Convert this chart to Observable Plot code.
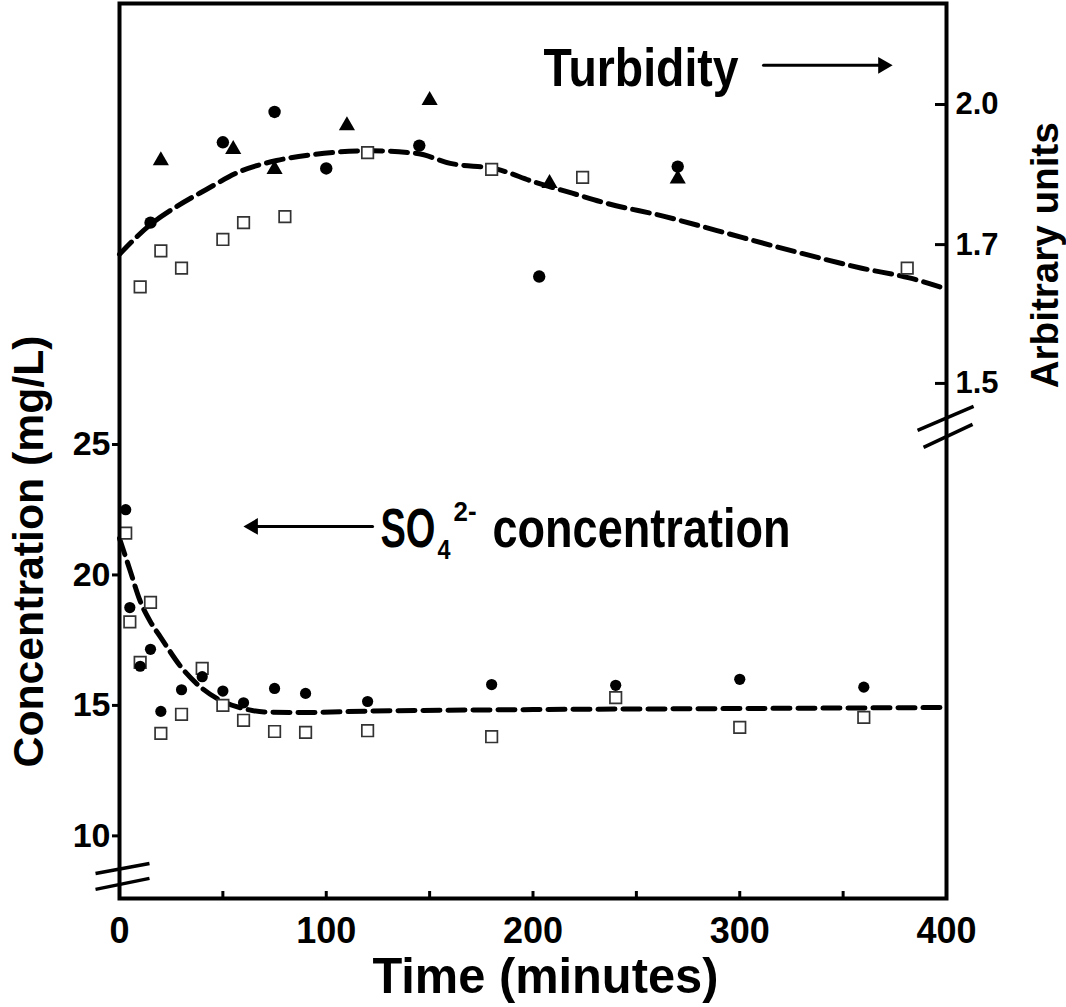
<!DOCTYPE html>
<html><head><meta charset="utf-8">
<script src="https://cdn.jsdelivr.net/npm/d3@7"></script>
<script src="https://cdn.jsdelivr.net/npm/@observablehq/plot@0.6"></script>
<style>
html,body{margin:0;padding:0;background:#fff;}
</style>
</head><body><div id="chart"></div>
<script>
// ---------- data ----------
// SO4(2-) concentration, mg/L (left axis)
const sulfateTime   = [3, 5, 10, 15, 20, 30, 40, 50, 60, 75, 90, 120, 180, 240, 300, 360];
const sulfateCircle = [22.5, 18.75, 16.5, 17.15, 14.77, 15.6, 16.1, 15.55, 15.1, 15.65, 15.46, 15.15, 15.8, 15.77, 16.0, 15.7];
const sulfateSquare = [21.6, 18.2, 16.65, 18.95, 13.93, 14.66, 16.42, 15.0, 14.43, 14.0, 13.97, 14.03, 13.8, 15.3, 14.16, 14.54];
const sulfateFitTime  = [0, 5, 10, 15, 20, 30, 40, 50, 60, 70, 90, 120, 200, 300, 400];
const sulfateFitValue = [21.4, 20.2, 19.0, 18.2, 17.6, 16.45, 15.65, 15.15, 14.88, 14.75, 14.73, 14.78, 14.84, 14.88, 14.92];

// Turbidity, arbitrary units (right axis)
const turbCircleTime  = [15, 50, 75, 100, 145, 203, 270];
const turbCircleValue = [1.747, 1.919, 1.984, 1.863, 1.912, 1.654, 1.867];
const turbTriTime     = [20, 55, 75, 110, 150, 208, 270];
const turbTriValue    = [1.88, 1.904, 1.861, 1.955, 2.009, 1.831, 1.841];
const turbSquareTime  = [10, 20, 30, 50, 60, 80, 120, 180, 224, 381];
const turbSquareValue = [1.639, 1.691, 1.666, 1.711, 1.747, 1.760, 1.897, 1.861, 1.844, 1.666];
const turbFitTime  = [0, 15, 26, 42, 58, 76, 94, 122, 144, 160, 183, 200, 219, 236, 263, 289, 324, 359, 382, 400];
const turbFitValue = [1.686, 1.743, 1.777, 1.818, 1.856, 1.880, 1.893, 1.901, 1.895, 1.874, 1.861, 1.835, 1.810, 1.788, 1.761, 1.730, 1.692, 1.666, 1.652, 1.636];

// axes
const xTicks = [0, 50, 100, 150, 200, 250, 300, 350, 400];
const xTickLabels = ["0", "", "100", "", "200", "", "300", "", "400"];
const leftTicks = [10, 15, 20, 25];
const rightTicks = [1.5, 1.7, 2.0];
const rightTickLabels = ["1.5", "1.7", "2.0"];
// the right axis: its tick values sit at these left-axis levels
const rightAxisLevels = [27.34, 32.66, 38.03];

// ---------- scales & helpers ----------
const turb = d3.scaleLinear().domain(rightTicks).range(rightAxisLevels); // turbidity -> left-axis units
const pts = (t, v) => t.map((d, i) => ({t: d, v: v[i]}));

const sulfCircles = pts(sulfateTime, sulfateCircle);
const sulfSquares = pts(sulfateTime, sulfateSquare);
const sulfFit = pts(sulfateFitTime, sulfateFitValue);
const tCircles = pts(turbCircleTime, turbCircleValue);
const tTris = pts(turbTriTime, turbTriValue);
const tSquares = pts(turbSquareTime, turbSquareValue);
const tFit = pts(turbFitTime, turbFitValue);

// annotation anchors (data units)
const texts = [
  {text: "Turbidity", t: 205.1, c: 38.73, size: 53, len: 195, anchor: "start"},
  {text: "SO", t: 126.2, c: 21.06, size: 56, len: 55, anchor: "start"},
  {text: "4", t: 153.8, c: 20.63, size: 28, len: 13, anchor: "start"},
  {text: "2-", t: 161.6, c: 22.05, size: 28, len: 23, anchor: "start"},
  {text: "concentration", t: 180.4, c: 21.06, size: 56, len: 298, anchor: "start"},
  {text: "Time (minutes)", t: 206, c: 3.96, size: 50, len: 346, anchor: "middle"}
];
const rotated = [
  {text: "Concentration (mg/L)", t: -36.8, c: 20.9, size: 42, len: 432},
  {text: "Arbitrary units", t: 453.7, c: 32.25, size: 38, len: 266}
];
const arrows = [
  {t1: 311.5, c1: 39.53, t2: 373.9, c2: 39.53, dir: 90},
  {t1: 122.4, c1: 21.86, t2: 60.0, c2: 21.86, dir: -90}
];
const breakMarks = [
  {t1: -11.6, c1: 8.56, t2: 14.5, c2: 8.94},
  {t1: -11.6, c1: 7.95, t2: 14.5, c2: 8.37},
  {t1: 386.0, c1: 25.54, t2: 413.1, c2: 26.46},
  {t1: 388.9, c1: 24.89, t2: 412.6, c2: 25.77}
];

const FONT = "'Liberation Sans', Arial, Helvetica, sans-serif";

const chart = Plot.plot({
  width: 1066,
  height: 1007,
  marginLeft: 119,
  marginRight: 120,
  marginTop: 3,
  marginBottom: 109,
  style: {fontFamily: FONT, fontWeight: "bold", color: "black", background: "white", overflow: "visible"},
  x: {domain: [0, 400]},
  y: {domain: [7.6, 41.9]},
  marks: [
    Plot.line(sulfFit, {x: "t", y: "v", stroke: "black", strokeWidth: 5, strokeDasharray: "17,8", curve: "monotone-x"}),
    Plot.line(tFit, {x: "t", y: d => turb(d.v), stroke: "black", strokeWidth: 5, strokeDasharray: "17,8", curve: "monotone-x"}),
    Plot.dot(sulfSquares, {x: "t", y: "v", symbol: "square", r: 6.5, fill: "white", stroke: "#333", strokeWidth: 1.7}),
    Plot.dot(sulfCircles, {x: "t", y: "v", r: 5.6, fill: "black"}),
    Plot.dot(tSquares, {x: "t", y: d => turb(d.v), symbol: "square", r: 6.5, fill: "white", stroke: "#333", strokeWidth: 1.7}),
    Plot.dot(tCircles, {x: "t", y: d => turb(d.v), r: 6.2, fill: "black"}),
    Plot.dot(tTris, {x: "t", y: d => turb(d.v), symbol: "triangle", r: 6, fill: "black"}),
    Plot.frame({stroke: "black", strokeWidth: 4}),
    Plot.axisX({ticks: xTicks, tickFormat: d => xTickLabels[xTicks.indexOf(d)], tickSize: -7, tickPadding: 26,
      strokeWidth: 3, fontSize: 36, fontWeight: "bold", label: null}),
    Plot.axisY({ticks: leftTicks, tickSize: 7, tickPadding: 2, strokeWidth: 3, fontSize: 34, fontWeight: "bold", label: null}),
    Plot.axisY({anchor: "right", ticks: rightTicks.map(turb), tickFormat: d => rightTickLabels[rightAxisLevels.indexOf(d)] ?? d3.format(".1f")(turb.invert(d)),
      tickSize: -12, tickPadding: 21, strokeWidth: 3, fontSize: 31, fontWeight: "bold", label: null}),
    Plot.link(breakMarks, {x1: "t1", y1: "c1", x2: "t2", y2: "c2", stroke: "black", strokeWidth: 3.5}),
    Plot.arrow(arrows, {x1: "t1", y1: "c1", x2: d => d.t2 - Math.sign(d.dir) * 6, y2: "c2", stroke: "black", strokeWidth: 3, headLength: 0}),
    Plot.dot(arrows, {x: d => d.t2 - Math.sign(d.dir) * 4.6, y: "c2", symbol: "triangle", r: 6.2, fill: "black", rotate: "dir"}),
    Plot.text(texts, {x: "t", y: "c", text: "text", fontSize: d => d.size, textAnchor: "start", lineAnchor: "bottom", fill: "black", fontWeight: "bold"}),
    Plot.text(rotated, {x: "t", y: "c", text: "text", fontSize: d => d.size, rotate: -90, textAnchor: "middle", lineAnchor: "bottom", fill: "black", fontWeight: "bold"})
  ]
});
document.getElementById("chart").append(chart);

// fit the label widths to the picture
const lengths = new Map([...texts, ...rotated].map(d => [d.text, d]));
chart.querySelectorAll("text").forEach(el => {
  const d = lengths.get(el.textContent);
  if (d) {
    el.setAttribute("textLength", d.len);
    el.setAttribute("lengthAdjust", "spacingAndGlyphs");
    if (d.anchor === "middle") el.setAttribute("text-anchor", "middle");
  }
});
</script>
</body></html>
